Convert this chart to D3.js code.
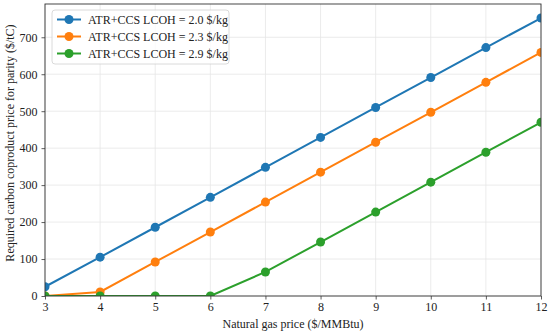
<!DOCTYPE html>
<html>
<head>
<meta charset="utf-8">
<script src="https://cdn.jsdelivr.net/npm/d3@7"></script>
<style>
  body { margin: 0; background: #fff; }
  text { font-family: "Liberation Serif", "DejaVu Serif", serif; }
</style>
</head>
<body>
<div id="chart"></div>
<script>
// gas price ($/MMBtu)
var gasPrice = [3, 4, 5, 6, 7, 8, 9, 10, 11, 12];
// required carbon coproduct price ($/tC), one array per LCOH case
var lcoh20 = [25, 105, 186, 267, 348, 429, 510, 591, 672, 752];
var lcoh23 = [0, 11, 92, 173, 254, 335, 416, 497, 578, 659];
var lcoh29 = [0, 0, 0, 0, 65, 146, 227, 308, 389, 470];
var seriesNames = ["ATR+CCS LCOH = 2.0 $/kg", "ATR+CCS LCOH = 2.3 $/kg", "ATR+CCS LCOH = 2.9 $/kg"];
var colors = ["#1f77b4", "#ff7f0e", "#2ca02c"];
var yTicks = [0, 100, 200, 300, 400, 500, 600, 700];

var series = [lcoh20, lcoh23, lcoh29].map(function(vals, i) {
  return { name: seriesNames[i], color: colors[i], values: vals };
});

var W = 550, H = 333;
var margin = { left: 45, right: 9, top: 4, bottom: 37 };
var fontSize = "12px";

var svg = d3.select("#chart").append("svg")
  .attr("width", W)
  .attr("height", H);

var x = d3.scaleLinear().domain([3, 12]).range([margin.left, W - margin.right]);
var y = d3.scaleLinear().domain([0, 790]).range([H - margin.bottom, margin.top]);

// grid
svg.append("g").selectAll("line.gx")
  .data(gasPrice)
  .enter().append("line")
  .attr("x1", d => x(d)).attr("x2", d => x(d))
  .attr("y1", y(0)).attr("y2", y(790))
  .style("stroke", "#e6e6e6").style("stroke-width", 0.8);
svg.append("g").selectAll("line.gy")
  .data(yTicks)
  .enter().append("line")
  .attr("x1", x(3)).attr("x2", x(12))
  .attr("y1", d => y(d)).attr("y2", d => y(d))
  .style("stroke", "#e6e6e6").style("stroke-width", 0.8);

// axes
var xAxis = svg.append("g")
  .attr("transform", "translate(0," + y(0) + ")")
  .call(d3.axisBottom(x).tickValues(gasPrice).tickSize(3.5).tickPadding(3).tickFormat(d3.format("d")));
var yAxis = svg.append("g")
  .attr("transform", "translate(" + x(3) + ",0)")
  .call(d3.axisLeft(y).tickValues(yTicks).tickSize(3.5).tickPadding(4).tickFormat(d3.format("d")));
[xAxis, yAxis].forEach(function(a) {
  a.select(".domain").remove();
  a.selectAll("text").style("font-size", fontSize).style("fill", "#222")
    .style("font-family", "'Liberation Serif', serif");
  a.selectAll("line").style("stroke", "#333").style("stroke-width", 0.8);
});

// clip
svg.append("clipPath").attr("id", "plotclip")
  .append("rect")
  .attr("x", x(3)).attr("y", y(790))
  .attr("width", x(12) - x(3)).attr("height", y(0) - y(790));

var plot = svg.append("g").attr("clip-path", "url(#plotclip)");

var line = d3.line()
  .x((d, i) => x(gasPrice[i]))
  .y(d => y(d));

series.forEach(function(s) {
  plot.append("path")
    .datum(s.values)
    .attr("d", line)
    .style("fill", "none")
    .style("stroke", s.color)
    .style("stroke-width", 2);
  plot.selectAll(null)
    .data(s.values)
    .enter().append("circle")
    .attr("cx", (d, i) => x(gasPrice[i]))
    .attr("cy", d => y(d))
    .attr("r", 4.5)
    .style("fill", s.color);
});

// frame
svg.append("rect")
  .attr("x", x(3)).attr("y", y(790))
  .attr("width", x(12) - x(3)).attr("height", y(0) - y(790))
  .style("fill", "none").style("stroke", "#333").style("stroke-width", 0.9);

// axis labels
svg.append("text")
  .attr("x", (x(3) + x(12)) / 2)
  .attr("y", 328)
  .attr("text-anchor", "middle")
  .style("font-size", fontSize)
  .style("fill", "#222")
  .text("Natural gas price ($/MMBtu)");

svg.append("text")
  .attr("transform", "translate(14,143) rotate(-90)")
  .attr("text-anchor", "middle")
  .style("font-size", fontSize)
  .style("fill", "#222")
  .text("Required carbon coproduct price for parity ($/tC)");

// legend
var legend = svg.append("g").attr("transform", "translate(52,10)");
legend.append("rect")
  .attr("width", 177).attr("height", 54)
  .attr("rx", 3)
  .style("fill", "#fff").style("fill-opacity", 0.8)
  .style("stroke", "#d0d0d0").style("stroke-width", 0.8);
var item = legend.selectAll("g.item")
  .data(series)
  .enter().append("g")
  .attr("transform", (d, i) => "translate(0," + (9.5 + i * 17) + ")");
item.append("line")
  .attr("x1", 5).attr("x2", 29)
  .style("stroke", d => d.color).style("stroke-width", 2);
item.append("circle")
  .attr("cx", 17).attr("r", 4.5)
  .style("fill", d => d.color);
item.append("text")
  .attr("x", 36).attr("dy", "0.35em")
  .style("font-size", fontSize)
  .style("fill", "#222")
  .text(d => d.name);
</script>
</body>
</html>
